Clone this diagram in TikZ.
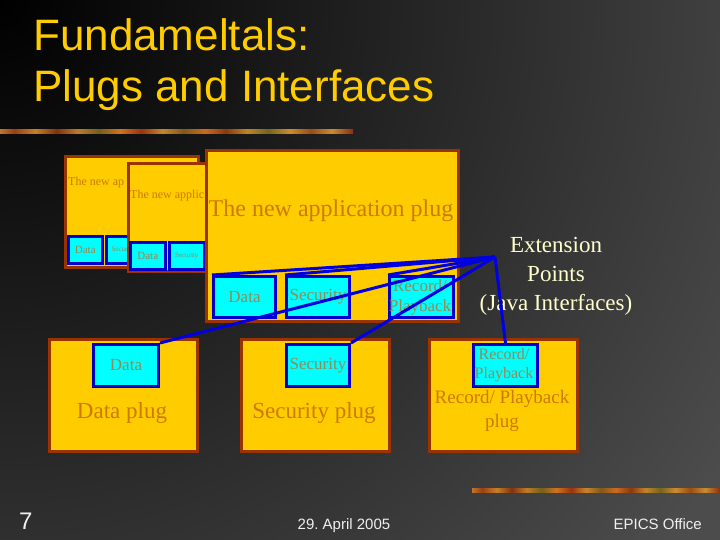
\documentclass[tikz,border=0pt]{standalone}
\usepackage{fontspec}
\setmainfont{Liberation Serif}
\setsansfont{Liberation Sans}
\definecolor{bgray}{RGB}{76,76,76}
\definecolor{titley}{RGB}{255,204,0}
\definecolor{plugfill}{RGB}{255,204,0}
\definecolor{plugedge}{RGB}{153,51,0}
\definecolor{plugtext}{RGB}{204,122,0}
\definecolor{ifill}{RGB}{0,255,255}
\definecolor{iedge}{RGB}{0,0,204}
\definecolor{itext}{RGB}{145,140,85}
\definecolor{cream}{RGB}{255,255,204}
\definecolor{foot}{RGB}{240,240,240}
\definecolor{lineblue}{RGB}{0,0,225}
\pgfdeclarehorizontalshading{strip}{100bp}{%
rgb(0bp)=(0.78,0.58,0.18); rgb(3bp)=(0.60,0.40,0.12); rgb(6bp)=(0.80,0.55,0.15);
rgb(9bp)=(0.50,0.30,0.10); rgb(12bp)=(0.70,0.40,0.12); rgb(15bp)=(0.55,0.15,0.05);
rgb(18bp)=(0.80,0.50,0.15); rgb(21bp)=(0.45,0.40,0.12); rgb(24bp)=(0.82,0.58,0.20);
rgb(27bp)=(0.60,0.25,0.08); rgb(30bp)=(0.78,0.50,0.15); rgb(33bp)=(0.50,0.20,0.05);
rgb(36bp)=(0.75,0.48,0.16); rgb(39bp)=(0.45,0.38,0.10); rgb(42bp)=(0.82,0.45,0.12);
rgb(45bp)=(0.60,0.20,0.05); rgb(48bp)=(0.78,0.52,0.18); rgb(51bp)=(0.50,0.35,0.10);
rgb(54bp)=(0.80,0.42,0.12); rgb(57bp)=(0.55,0.22,0.06); rgb(60bp)=(0.75,0.52,0.15);
rgb(63bp)=(0.45,0.40,0.12); rgb(66bp)=(0.80,0.55,0.18); rgb(69bp)=(0.60,0.30,0.08);
rgb(72bp)=(0.78,0.55,0.20); rgb(75bp)=(0.55,0.18,0.05); rgb(78bp)=(0.80,0.50,0.15);
rgb(81bp)=(0.50,0.40,0.12); rgb(84bp)=(0.78,0.45,0.15); rgb(87bp)=(0.60,0.25,0.08);
rgb(90bp)=(0.80,0.55,0.18); rgb(93bp)=(0.50,0.35,0.10); rgb(96bp)=(0.78,0.52,0.18);
rgb(100bp)=(0.80,0.60,0.22)}
\tikzset{
  plugbox/.style={draw=plugedge, fill=plugfill, line width=3pt, inner sep=0pt, anchor=north west},
  ifbox/.style={draw=iedge, fill=ifill, line width=3pt, inner sep=0pt, anchor=north west, text=itext, font=\fontsize{17}{20}\selectfont, align=center},
  smallif/.style={ifbox, line width=2.5pt},
  plugtxt/.style={text=plugtext, inner sep=0pt},
  conn/.style={draw=lineblue, line width=3pt},
  foottxt/.style={text=foot, font=\sffamily\fontsize{15}{15}\selectfont, inner sep=0pt, anchor=base}
}
\begin{document}
\begin{tikzpicture}[x=1pt,y=-1pt]
\useasboundingbox (0,0) rectangle (720,540);
% background
\fill[bgray] (0,0) rectangle (720,540);
\begin{scope}
\clip (0,0) rectangle (720,540);
\shade[inner color=black, outer color=bgray] (0,0) circle (860pt);
\end{scope}
% title
\node[anchor=base west, inner sep=0pt, text=titley, font=\sffamily\fontsize{44}{44}\selectfont] (t1) at (33,51) {Fundameltals:};
\node[anchor=base west, inner sep=0pt, text=titley, font=\sffamily\fontsize{44}{44}\selectfont] (t2) at (33,102) {Plugs and Interfaces};
% decorative strips
\shade[shading=strip] (0,130) rectangle (353,134);
\shade[shading=strip] (472,488) rectangle (720,492);
% thumbnail plug 1
\node[plugbox, minimum width=133pt, minimum height=111pt] (b1) at (64,155) {};
\node[plugtxt, anchor=base west, font=\fontsize{12}{12}\selectfont] (b1t) at (68,186) {The new ap};
\node[smallif, minimum width=34pt, minimum height=27pt, font=\fontsize{11}{11}\selectfont] (b1d) at (67,235) {Data};
\node[smallif, minimum width=34pt, minimum height=27pt, font=\fontsize{7}{7}\selectfont] (b1s) at (105,235) {Security};
% thumbnail plug 2
\node[plugbox, minimum width=78pt, minimum height=108pt] (b2) at (127,162) {};
\node[plugtxt, anchor=base west, font=\fontsize{12}{12}\selectfont] (b2t) at (130,199) {The new applic};
\node[smallif, minimum width=35pt, minimum height=27pt, font=\fontsize{11}{11}\selectfont] (b2d) at (129,241) {Data};
\node[smallif, minimum width=35pt, minimum height=27pt, font=\fontsize{7}{7}\selectfont] (b2s) at (168,241) {Security};
% main application plug
\node[plugbox, minimum width=252pt, minimum height=171pt] (app) at (205,149) {};
\node[plugtxt, anchor=base, font=\fontsize{24}{24}\selectfont] (appt) at (331,216) {The new application plug};
\node[ifbox, minimum width=62pt, minimum height=41pt] (mD) at (212,275) {};
\node[text=itext, font=\fontsize{17}{20}\selectfont, inner sep=0pt] (mDt) at (mD.center) {Data};
\node[ifbox, minimum width=63pt, minimum height=41pt] (mS) at (285,275) {};
\node[text=itext, font=\fontsize{17}{20}\selectfont, inner sep=0pt] (mSt) at (mS.center) {Security};
\node[ifbox, minimum width=64pt, minimum height=41pt] (mR) at (388,275) {};
\node[text=itext, font=\fontsize{17}{20}\selectfont, inner sep=0pt, align=center] (mRt) at (420,297) {Record/\\Playback};
% bottom plugs
\node[plugbox, minimum width=148pt, minimum height=112pt] (dp) at (48,338) {};
\node[ifbox, minimum width=65pt, minimum height=42pt] (dI) at (92,343) {Data};
\node[plugtxt, anchor=base, font=\fontsize{23}{23}\selectfont] (dpt) at (122,418) {Data plug};
\node[plugbox, minimum width=148pt, minimum height=112pt] (sp) at (240,338) {};
\node[ifbox, minimum width=63pt, minimum height=42pt] (sI) at (285,343) {Security};
\node[plugtxt, anchor=base, font=\fontsize{23}{23}\selectfont] (spt) at (314,418) {Security plug};
\node[plugbox, minimum width=148pt, minimum height=112pt] (rp) at (428,338) {};
\node[ifbox, minimum width=64pt, minimum height=42pt] (rI) at (472,343) {};
\node[text=itext, font=\fontsize{16}{19}\selectfont, inner sep=0pt, align=center] (rIt) at (504,365) {Record/\\Playback};
\node[plugtxt, align=center, font=\fontsize{19}{24}\selectfont] (rpt) at (502,411) {Record/ Playback\\plug};
% extension points
\node[text=cream, align=center, inner sep=0pt, font=\fontsize{23}{29}\selectfont] (ext) at (556,276) {Extension\\Points\\(Java Interfaces)};
\coordinate (hub) at (495,257);
\draw[conn] (hub) -- (mD.north west);
\draw[conn] (hub) -- (mS.north west);
\draw[conn] (hub) -- (mR.north west);
\draw[conn] (hub) -- (dI.north east);
\draw[conn] (hub) -- (sI.north east);
\draw[conn] (hub) -- (rI.north);
% footer
\node[anchor=base west, inner sep=0pt, text=foot, font=\sffamily\fontsize{24}{24}\selectfont] (pg) at (19,529) {7};
\node[foottxt] (date) at (344,529) {29.\ April 2005};
\node[foottxt, anchor=base east] (org) at (702,529) {EPICS Office};
\end{tikzpicture}
\end{document}
